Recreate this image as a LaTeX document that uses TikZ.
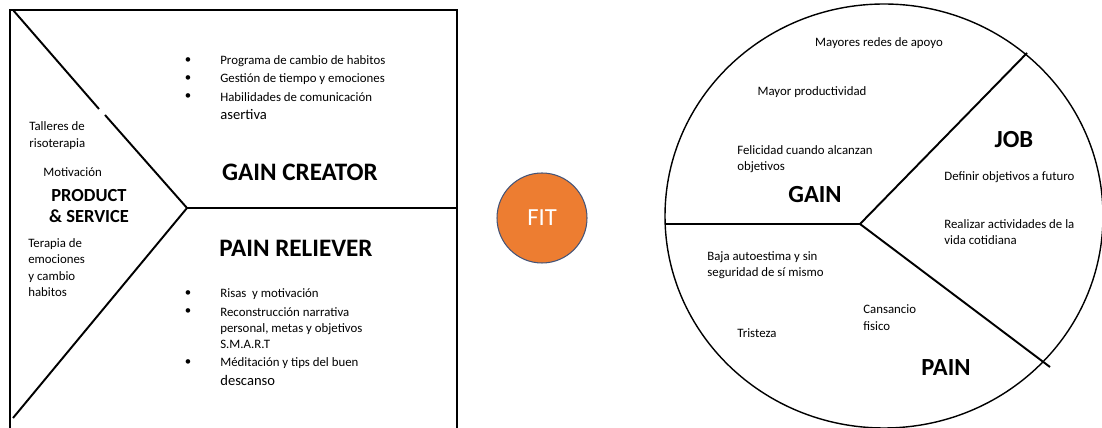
\documentclass[tikz,border=0pt]{standalone}
\usepackage{fontspec}
\setmainfont{Carlito}
\usetikzlibrary{positioning,shapes.geometric}
\definecolor{fitorange}{RGB}{237,125,49}
\definecolor{fitedge}{RGB}{68,84,120}

\begin{document}
\begin{tikzpicture}[x=0.02cm,y=-0.02cm,every node/.style={inner sep=0pt},
                small text/.style={font=\fontsize{7.3}{9.3}\selectfont,align=left,anchor=west},
                mid text/.style={font=\fontsize{8.3}{9.3}\selectfont,anchor=west},
                bullet/.style={font=\fontsize{7.3}{9.3}\selectfont},
                title/.style={font=\fontsize{14.3}{16}\selectfont\bfseries},
                part/.style={font=\fontsize{14}{16}\selectfont\bfseries},
                frame line/.style={line width=1.1pt},
                fit node/.style={circle,fill=fitorange,draw=fitedge,line width=0.6pt,
                    minimum size=90*0.02cm,text=white,font=\fontsize{14}{16}\selectfont}]
\useasboundingbox (0,0) rectangle (1102,428);

%Value proposition
    \coordinate (BL) at (10,432);
    \coordinate (TL) at (10,10);
    \coordinate (TR) at (457,10);
    \coordinate (BR) at (457,432);
    \coordinate (D1) at (13,10);
    \coordinate (G1) at (99,109);
    \coordinate (G2) at (105,115);
    \coordinate (Tip) at (187,208);
    \coordinate (Mid) at (457,208);
    \coordinate (D2) at (13,418);

    \draw[frame line] (BL) -- (TL) -- (TR) -- (BR);
    \draw[frame line] (D1) -- (G1);
    \draw[frame line] (G2) -- (Tip) -- (D2);
    \draw[frame line] (Tip) -- (Mid);

%Nodes
    \node[small text] (talleres) at (29,135.5) {Talleres de\\risoterapia};
    \node[small text] (motiv) at (43,172) {Motivación};
    \node[font=\fontsize{10.5}{12}\selectfont\bfseries,align=center] (prod) at (89,206) {PRODUCT\\\& SERVICE};
    \node[small text] (terapia) at (28,267.5) {Terapia de\\emociones\\y cambio\\habitos};

    \node[bullet] (b1) at (188,61) {•};
    \node[bullet] (b2) at (188,79) {•};
    \node[bullet] (b3) at (188,97) {•};
    \node[small text] (gc1) at (220,61) {Programa de cambio de habitos};
    \node[small text] (gc2) at (220,79) {Gestión de tiempo y emociones};
    \node[small text] (gc3) at (220,97) {Habilidades de comunicación};
    \node[mid text] (gc4) at (220,115) {asertiva};
    \node[title] (gain creator) at (300,172) {GAIN CREATOR};

    \node[title] (pain reliever) at (296,248) {PAIN RELIEVER};
    \node[bullet] (b4) at (188,294) {•};
    \node[bullet] (b5) at (188,312) {•};
    \node[bullet] (b6) at (188,363) {•};
    \node[small text] (pr1) at (220,294) {Risas\ \ y motivación};
    \node[small text] (pr2) at (220,328) {Reconstrucción narrativa\\personal, metas y objetivos\\S.M.A.R.T};
    \node[small text] (pr3) at (220,363) {Méditación y tips del buen};
    \node[mid text] (pr4) at (220,380) {descanso};

%Fit
    \node[fit node] (fit) at (542,218) {FIT};

%Customer profile
    \node[draw,ellipse,line width=0.8pt,minimum width=438*0.02cm,minimum height=424*0.02cm] (profile) at (884,216) {};
    \coordinate (Rim) at (665.5,224);
    \coordinate (Hub) at (860,224);
    \coordinate (JobTop) at (1027,53);
    \coordinate (JobBot) at (1050,367);
    \draw[frame line] (Rim) -- (Hub);
    \draw[frame line] (Hub) -- (JobTop);
    \draw[frame line] (Hub) -- (JobBot);

    \node[font=\fontsize{7.3}{9.3}\selectfont] (redes) at (879,43) {Mayores redes de apoyo};
    \node[font=\fontsize{7.3}{9.3}\selectfont] (product) at (812,92) {Mayor productividad};
    \node[small text] (felicidad) at (737,159) {Felicidad cuando alcanzan\\objetivos};
    \node[part] (gain) at (815,195) {GAIN};

    \node[part] (job) at (1014,140) {JOB};
    \node[small text] (definir) at (944,177) {Definir objetivos a futuro};
    \node[small text] (realizar) at (944,232) {Realizar actividades de la\\vida cotidiana};

    \node[small text] (baja) at (707,265) {Baja autoestima y sin\\seguridad de sí mismo};
    \node[small text] (cansancio) at (863,317.5) {Cansancio\\fisico};
    \node[small text] (tristeza) at (737,333) {Tristeza};
    \node[part] (pain) at (946,368) {PAIN};
\end{tikzpicture}
\end{document}
